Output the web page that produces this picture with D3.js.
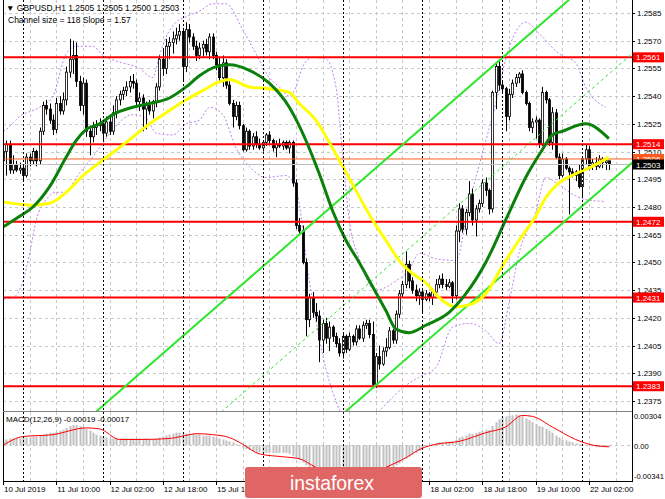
<!DOCTYPE html>
<html><head><meta charset="utf-8">
<script src="https://cdnjs.cloudflare.com/ajax/libs/d3/7.8.5/d3.min.js"></script>
<style>body{margin:0;background:#fff}svg{display:block}text{font-family:"Liberation Sans",Arial,sans-serif}</style>
</head><body><svg id="c" width="665" height="499"></svg>
<script>
// ---------- DATA ----------
const opens=[1.2505,1.2510,1.2514,1.2500,1.2503,1.2500,1.2501,1.2497,1.2507,1.2505,
1.2510,1.2505,1.2521,1.2535,1.2533,1.2527,1.2522,1.2536,1.2532,1.2538,
1.2553,1.2560,1.2562,1.2548,1.2535,1.2547,1.2521,1.2518,1.2523,1.2524,
1.2525,1.2520,1.2526,1.2521,1.2531,1.2538,1.2541,1.2543,1.2545,1.2548,
1.2547,1.2537,1.2539,1.2533,1.2535,1.2532,1.2537,1.2545,1.2560,1.2555,
1.2567,1.2569,1.2571,1.2573,1.2575,1.2556,1.2576,1.2572,1.2567,1.2562,
1.2566,1.2568,1.2564,1.2572,1.2562,1.2557,1.2550,1.2558,1.2546,1.2536,
1.2529,1.2535,1.2524,1.2511,1.2521,1.2513,1.2518,1.2514,1.2512,1.2515,
1.2519,1.2516,1.2512,1.2514,1.2513,1.2515,1.2512,1.2515,1.2493,1.2470,
1.2467,1.2450,1.2419,1.2431,1.2423,1.2421,1.2408,1.2417,1.2409,1.2415,
1.2410,1.2406,1.2401,1.2410,1.2403,1.2410,1.2407,1.2414,1.2409,1.2416,
1.2417,1.2411,1.2384,1.2399,1.2395,1.2402,1.2404,1.2413,1.2408,1.2422,
1.2433,1.2438,1.2449,1.2440,1.2435,1.2432,1.2434,1.2430,1.2433,1.2431,
1.2434,1.2438,1.2441,1.2438,1.2437,1.2439,1.2432,1.2467,1.2479,1.2468,
1.2477,1.2487,1.2473,1.2479,1.2482,1.2493,1.2489,1.2479,1.2542,1.2556,
1.2546,1.2544,1.2529,1.2541,1.2547,1.2550,1.2552,1.2542,1.2536,1.2523,
1.2526,1.2527,1.2514,1.2542,1.2538,1.2515,1.2531,1.2507,1.2497,1.2506,
1.2501,1.2499,1.2497,1.2499,1.2491,1.2506,1.2511,1.2502,1.2504,1.2502,
1.2506,1.2504,1.2505];
const highs=[1.2513,1.2516,1.2516,1.2508,1.2505,1.2504,1.2503,1.2509,1.2509,1.2512,
1.2511,1.2523,1.2537,1.2538,1.2536,1.2530,1.2539,1.2540,1.2542,1.2556,
1.2571,1.2570,1.2569,1.2551,1.2550,1.2549,1.2524,1.2526,1.2527,1.2528,
1.2527,1.2529,1.2530,1.2535,1.2540,1.2543,1.2545,1.2548,1.2551,1.2552,
1.2549,1.2542,1.2541,1.2537,1.2538,1.2538,1.2547,1.2562,1.2566,1.2571,
1.2572,1.2575,1.2577,1.2579,1.2577,1.2580,1.2579,1.2574,1.2570,1.2569,
1.2570,1.2571,1.2574,1.2574,1.2564,1.2561,1.2562,1.2560,1.2548,1.2538,
1.2537,1.2537,1.2525,1.2523,1.2522,1.2520,1.2521,1.2517,1.2516,1.2520,
1.2521,1.2517,1.2516,1.2517,1.2516,1.2516,1.2516,1.2516,1.2495,1.2474,
1.2470,1.2452,1.2433,1.2434,1.2428,1.2424,1.2419,1.2420,1.2418,1.2416,
1.2412,1.2409,1.2412,1.2411,1.2412,1.2411,1.2416,1.2416,1.2418,1.2419,
1.2419,1.2418,1.2401,1.2405,1.2404,1.2409,1.2415,1.2414,1.2424,1.2435,
1.2440,1.2456,1.2451,1.2442,1.2438,1.2436,1.2436,1.2435,1.2434,1.2436,
1.2441,1.2443,1.2444,1.2441,1.2441,1.2440,1.2470,1.2482,1.2481,1.2479,
1.2494,1.2490,1.2481,1.2484,1.2495,1.2496,1.2490,1.2543,1.2558,1.2559,
1.2548,1.2545,1.2544,1.2549,1.2552,1.2553,1.2554,1.2543,1.2537,1.2528,
1.2529,1.2528,1.2545,1.2543,1.2539,1.2534,1.2533,1.2509,1.2509,1.2507,
1.2502,1.2501,1.2500,1.2503,1.2507,1.2514,1.2513,1.2506,1.2507,1.2508,
1.2507,1.2507,1.2505];
const lows=[1.2490,1.2497,1.2498,1.2498,1.2499,1.2498,1.2494,1.2496,1.2502,1.2503,
1.2502,1.2503,1.2519,1.2530,1.2525,1.2519,1.2520,1.2530,1.2530,1.2535,
1.2550,1.2552,1.2545,1.2532,1.2530,1.2518,1.2508,1.2515,1.2519,1.2521,
1.2516,1.2518,1.2519,1.2519,1.2528,1.2535,1.2538,1.2540,1.2542,1.2544,
1.2535,1.2532,1.2521,1.2522,1.2530,1.2528,1.2534,1.2543,1.2551,1.2552,
1.2560,1.2563,1.2568,1.2570,1.2548,1.2553,1.2569,1.2565,1.2559,1.2560,
1.2561,1.2562,1.2560,1.2560,1.2554,1.2548,1.2545,1.2544,1.2535,1.2523,
1.2527,1.2522,1.2510,1.2510,1.2511,1.2511,1.2512,1.2511,1.2510,1.2513,
1.2514,1.2510,1.2507,1.2512,1.2511,1.2511,1.2509,1.2491,1.2468,1.2465,
1.2449,1.2410,1.2415,1.2420,1.2418,1.2396,1.2401,1.2406,1.2402,1.2407,
1.2404,1.2399,1.2398,1.2401,1.2402,1.2405,1.2405,1.2408,1.2407,1.2414,
1.2409,1.2382,1.2382,1.2392,1.2394,1.2399,1.2403,1.2406,1.2406,1.2420,
1.2431,1.2436,1.2436,1.2433,1.2429,1.2427,1.2423,1.2429,1.2429,1.2427,
1.2432,1.2436,1.2436,1.2435,1.2436,1.2428,1.2430,1.2461,1.2466,1.2465,
1.2475,1.2470,1.2464,1.2477,1.2480,1.2486,1.2476,1.2477,1.2533,1.2543,
1.2542,1.2521,1.2527,1.2539,1.2545,1.2547,1.2541,1.2535,1.2521,1.2520,
1.2517,1.2512,1.2513,1.2536,1.2513,1.2511,1.2506,1.2495,1.2496,1.2500,
1.2476,1.2496,1.2494,1.2490,1.2485,1.2503,1.2500,1.2500,1.2500,1.2501,
1.2501,1.2500,1.2500];
const closes=[1.2510,1.2514,1.2500,1.2503,1.2500,1.2501,1.2497,1.2507,1.2505,1.2510,
1.2505,1.2521,1.2535,1.2533,1.2527,1.2522,1.2536,1.2532,1.2538,1.2553,
1.2560,1.2562,1.2548,1.2535,1.2547,1.2521,1.2518,1.2523,1.2524,1.2525,
1.2520,1.2526,1.2521,1.2531,1.2538,1.2541,1.2543,1.2545,1.2548,1.2547,
1.2537,1.2539,1.2533,1.2535,1.2532,1.2537,1.2545,1.2560,1.2555,1.2567,
1.2569,1.2571,1.2573,1.2575,1.2556,1.2576,1.2572,1.2567,1.2562,1.2566,
1.2568,1.2564,1.2572,1.2562,1.2557,1.2550,1.2558,1.2546,1.2536,1.2529,
1.2535,1.2524,1.2511,1.2521,1.2513,1.2518,1.2514,1.2512,1.2515,1.2519,
1.2516,1.2512,1.2514,1.2513,1.2515,1.2512,1.2515,1.2493,1.2470,1.2467,
1.2450,1.2419,1.2431,1.2423,1.2421,1.2408,1.2417,1.2409,1.2415,1.2410,
1.2406,1.2401,1.2410,1.2403,1.2410,1.2407,1.2414,1.2409,1.2416,1.2417,
1.2411,1.2384,1.2399,1.2395,1.2402,1.2404,1.2413,1.2408,1.2422,1.2433,
1.2438,1.2449,1.2440,1.2435,1.2432,1.2434,1.2430,1.2433,1.2431,1.2434,
1.2438,1.2441,1.2438,1.2437,1.2439,1.2432,1.2467,1.2479,1.2468,1.2477,
1.2487,1.2473,1.2479,1.2482,1.2493,1.2489,1.2479,1.2542,1.2556,1.2546,
1.2544,1.2529,1.2541,1.2547,1.2550,1.2552,1.2542,1.2536,1.2523,1.2526,
1.2527,1.2514,1.2542,1.2538,1.2515,1.2531,1.2507,1.2497,1.2506,1.2501,
1.2499,1.2497,1.2499,1.2491,1.2506,1.2511,1.2502,1.2504,1.2502,1.2506,
1.2504,1.2505,1.2503];

// moving averages: [bar, price]
const greenMA=[[-1,1.2468],[5,1.2475],[9,1.2480],[14,1.2491],[19,1.2507],[22,1.2516],[25,1.2522],[29,1.2525],[33,1.2530],[39,1.2534],[44,1.2536],[50,1.2539],[55,1.2545],[59,1.2551],[64,1.2556],[68,1.2557],[74,1.2554],[80,1.2547],[86,1.2534],[91,1.2516],[95,1.2498],[99,1.2478],[103,1.2462],[107,1.2450],[111,1.2437],[115,1.2424],[118,1.2414],[122,1.2412],[127,1.2416],[134,1.2423],[139,1.2433],[145,1.2450],[151,1.2473],[157,1.2496],[162,1.2511],[165,1.2519],[168,1.2521],[175,1.2525],[182,1.2517]];
const yellowMA=[[-1,1.2483],[9,1.2481],[14,1.2482],[19,1.2488],[24,1.2497],[29,1.2504],[37,1.2515],[44,1.2525],[49,1.2531],[55,1.2538],[61,1.2544],[64,1.2547],[68,1.2549],[74,1.2545],[80,1.2544],[86,1.2542],[89,1.2536],[94,1.2527],[98,1.2515],[102,1.2502],[106,1.2489],[111,1.2473],[115,1.2462],[119,1.2451],[123,1.2444],[127,1.2439],[131,1.2431],[136,1.2426],[140,1.2427],[145,1.2433],[150,1.2448],[155,1.2462],[160,1.2475],[163,1.2485],[167,1.2493],[172,1.2498],[177,1.2502],[182,1.2507]];
const bandUpper=[[-1,1.2520],[1,1.2522],[5,1.2529],[11,1.2534],[15,1.2540],[19,1.2563],[22,1.2567],[27,1.2567],[30,1.2562],[34,1.2559],[41,1.2555],[45,1.2550],[47,1.2562],[49,1.2572],[52,1.2580],[55,1.2583],[59,1.2586],[63,1.2590],[67,1.2590],[72,1.2576],[76,1.2563],[80,1.2550],[83,1.2545],[86,1.2540],[88,1.2545],[90,1.2556],[93,1.2561],[97,1.2560],[100,1.2545],[102,1.2509],[104,1.2473],[107,1.2452],[112,1.2435],[118,1.2440],[122,1.2446],[125,1.2455],[130,1.2452],[136,1.2451],[140,1.2482],[144,1.2509],[148,1.2536],[151,1.2560],[157,1.2580],[161,1.2574],[167,1.2563],[172,1.2558],[175,1.2545],[181,1.2534]];
const bandLower=[[-1,1.2430],[3,1.2431],[6,1.2440],[8,1.2455],[10,1.2473],[13,1.2484],[16,1.2488],[19,1.2488],[22,1.2496],[26,1.2505],[29,1.2512],[33,1.2522],[39,1.2530],[43,1.2528],[46,1.2520],[51,1.2519],[55,1.2525],[59,1.2527],[62,1.2534],[66,1.2530],[70,1.2512],[74,1.2502],[79,1.2496],[85,1.2497],[88,1.2490],[92,1.2440],[96,1.2400],[100,1.2375],[104,1.2362],[110,1.2365],[116,1.2375],[120,1.2382],[125,1.2388],[130,1.2393],[135,1.2415],[140,1.2417],[145,1.2413],[149,1.2406],[152,1.2428],[155,1.2455],[160,1.2477],[163,1.2496],[167,1.2492],[172,1.2486],[175,1.2484],[181,1.2483]];

// equidistant channel anchors [bar, price]
const channelUpper=[[31,1.2374],[168,1.2589]];
const channelMiddle=[[70,1.2376],[189,1.2563]];
const channelLower=[[104,1.2371],[189,1.2504]];

const levels=[1.2561,1.2514,1.2472,1.2431,1.2383];
const bidLevel=1.2503, askLevel=1.2506;
const priceTicks=[1.2585,1.2570,1.2555,1.2540,1.2525,1.2510,1.2495,1.2480,1.2465,1.2450,1.2435,1.2420,1.2405,1.2390,1.2375];
const timeLabels=[[0,"10 Jul 2019"],[16,"11 Jul 10:00"],[32,"12 Jul 02:00"],[48,"12 Jul 18:00"],[64,"15 Jul 10:00"],[128,"18 Jul 02:00"],[144,"18 Jul 18:00"],[160,"19 Jul 10:00"],[176,"22 Jul 02:00"]];
const tickBars=[0,16,32,48,64,80,96,112,128,144,160,176];
const daySeparators=[6,30,54,78,102,126,150,174];

const macdHist=[.0006,.0006,.0007,.0007,.0007,.0007,.0008,.0008,.0008,.0009,
.0009,.0010,.0011,.0012,.0013,.0013,.0014,.0015,.0016,.0018,
.0020,.0021,.0021,.0020,.0019,.0017,.0015,.0013,.0011,.0010,
.0009,.0008,.0007,.0007,.0007,.0007,.0007,.0007,.0007,.0007,
.0007,.0007,.0007,.0007,.0006,.0006,.0007,.0008,.0009,.0010,
.0011,.0012,.0013,.0013,.0013,.0012,.0012,.0012,.0011,.0011,
.0010,.0010,.0010,.0009,.0008,.0007,.0006,.0005,.0004,.0003,
.0001,-.0001,-.0003,-.0004,-.0005,-.0006,-.0007,-.0007,-.0008,-.0008,
-.0008,-.0008,-.0008,-.0008,-.0008,-.0008,-.0009,-.0011,-.0013,-.0015,
-.0018,-.0021,-.0024,-.0026,-.0028,-.0030,-.0031,-.0032,-.0033,-.0033,
-.0033,-.0033,-.0032,-.0032,-.0031,-.0031,-.0030,-.0030,-.0029,-.0029,
-.0029,-.0030,-.0030,-.0029,-.0028,-.0027,-.0025,-.0023,-.0021,-.0019,
-.0016,-.0014,-.0012,-.0010,-.0008,-.0006,-.0004,-.0002,.0000,.0001,
.0002,.0003,.0003,.0004,.0004,.0004,.0006,.0008,.0009,.0010,
.0012,.0012,.0013,.0014,.0015,.0016,.0016,.0020,.0024,.0027,
.0029,.0030,.0031,.0031,.0032,.0031,.0030,.0028,.0026,.0024,
.0022,.0020,.0019,.0017,.0015,.0013,.0010,.0008,.0006,.0005,
.0004,.0003,.0002,.0001,.0001,.0000,-.0001,-.0001,-.0002,-.0002,
-.0002,-.0002,-.00019];
const macdSignal=[[0,0.0000],[6,0.0009],[15,0.0011],[25,0.0018],[29,0.0017],[35,0.0006],[42,0.0006],[50,0.0007],[56,0.0011],[58,0.0012],[63,0.0011],[68,0.0008],[72,0.0001],[77,-0.0009],[84,-0.0012],[89,-0.0014],[94,-0.0023],[98,-0.0028],[103,-0.0033],[110,-0.0032],[115,-0.0023],[120,-0.0015],[126,-0.0003],[130,0.0001],[137,0.0004],[145,0.0013],[151,0.0019],[156,0.0031],[159,0.0030],[165,0.0019],[172,0.0006],[176,0.0001],[182,-0.00017]];
const macdTicks=[0.00304,0.00,-0.00341];

// ---------- DRAW ----------
const svg=d3.select("#c");
const L=3,R=632,T=0,MB=411,MT=412,BB=481;
const x=d3.scaleLinear().domain([0,182]).range([3,608.9]);
const y=d3.scaleLinear().domain([1.2375,1.2585]).range([401,13]);
const ym=d3.scaleLinear().domain([-0.00341,0.00304]).range([478,416]);

const defs=svg.append("defs");
defs.append("clipPath").attr("id","cm").append("rect").attr("x",L).attr("y",T).attr("width",R-L).attr("height",MB-T);
defs.append("clipPath").attr("id","cd").append("rect").attr("x",L).attr("y",MT).attr("width",R-L).attr("height",BB-MT);

const gm=svg.append("g").attr("clip-path","url(#cm)");
const gd=svg.append("g").attr("clip-path","url(#cd)");

// grid
const vb=d3.range(0,190,8);
[gm,gd].forEach((g,k)=>{
  g.selectAll(null).data(vb).join("line").attr("x1",d=>Math.round(x(d))+0.5).attr("x2",d=>Math.round(x(d))+0.5)
   .attr("y1",k?MT:T).attr("y2",k?BB:MB).attr("stroke","#c8c8c8").attr("stroke-dasharray","3,3");
});
gm.selectAll(null).data(priceTicks).join("line").attr("x1",L).attr("x2",R)
  .attr("y1",d=>Math.round(y(d))+0.5).attr("y2",d=>Math.round(y(d))+0.5).attr("stroke","#c8c8c8").attr("stroke-dasharray","3,3");
gd.append("line").attr("x1",L).attr("x2",R).attr("y1",Math.round(ym(0))+0.5).attr("y2",Math.round(ym(0))+0.5).attr("stroke","#c8c8c8").attr("stroke-dasharray","3,3");
// day separators
svg.selectAll(null).data(daySeparators).join("line").attr("x1",d=>Math.round(x(d))+0.5).attr("x2",d=>Math.round(x(d))+0.5)
  .attr("y1",T).attr("y2",BB).attr("stroke","#000").attr("stroke-dasharray","2,2");

// bands
const lineP=d3.line().x(d=>x(d[0])).y(d=>y(d[1])).curve(d3.curveMonotoneX);
[bandUpper,bandLower].forEach(b=>gm.append("path").attr("d",lineP(b)).attr("fill","none")
  .attr("stroke","#bf7fec").attr("stroke-width",1).attr("stroke-dasharray","2,2"));

// candles
const idx=d3.range(closes.length);
gm.selectAll(null).data(idx).join("line").attr("x1",i=>Math.round(x(i))+0.5).attr("x2",i=>Math.round(x(i))+0.5)
  .attr("y1",i=>y(highs[i])).attr("y2",i=>y(lows[i])).attr("stroke","#000");
gm.selectAll(null).data(idx).join("rect")
  .attr("x",i=>Math.round(x(i))-0.5).attr("width",2)
  .attr("y",i=>y(Math.max(opens[i],closes[i])))
  .attr("height",i=>Math.max(1,Math.abs(y(opens[i])-y(closes[i]))))
  .attr("fill",i=>closes[i]>=opens[i]?"#fff":"#000").attr("stroke","#000").attr("stroke-width",0.8);

// bid/ask lines
gm.append("line").attr("x1",L).attr("x2",R).attr("y1",y(bidLevel)).attr("y2",y(bidLevel)).attr("stroke","#c0c0c0");
gm.append("line").attr("x1",L).attr("x2",R).attr("y1",y(askLevel)).attr("y2",y(askLevel)).attr("stroke","#ff5a1e");
// levels
gm.selectAll(null).data(levels).join("line").attr("x1",L).attr("x2",R).attr("y1",d=>y(d)).attr("y2",d=>y(d))
  .attr("stroke","#ff0000").attr("stroke-width",2);

// channel
const ext=(a)=>{const s=(a[1][1]-a[0][1])/(a[1][0]-a[0][0]);return [[-20,a[0][1]+s*(-20-a[0][0])],[200,a[0][1]+s*(200-a[0][0])]];};
const lineL=d3.line().x(d=>x(d[0])).y(d=>y(d[1]));
gm.append("path").attr("d",lineL(ext(channelUpper))).attr("stroke","#2ee62e").attr("stroke-width",2).attr("fill","none");
gm.append("path").attr("d",lineL(ext(channelLower))).attr("stroke","#2ee62e").attr("stroke-width",2).attr("fill","none");
gm.append("path").attr("d",lineL(ext(channelMiddle))).attr("stroke","#2ee62e").attr("stroke-width",1).attr("stroke-dasharray","3,3").attr("fill","none");

// MAs
const lineM=d3.line().x(d=>x(d[0])).y(d=>y(d[1])).curve(d3.curveMonotoneX);
gm.append("path").attr("d",lineM(yellowMA)).attr("fill","none").attr("stroke","#ffff00").attr("stroke-width",3);
gm.append("path").attr("d",lineM(greenMA)).attr("fill","none").attr("stroke","#0b800b").attr("stroke-width",3);

// MACD
gd.selectAll(null).data(idx).join("line").attr("x1",i=>Math.round(x(i))+0.5).attr("x2",i=>Math.round(x(i))+0.5)
  .attr("y1",ym(0)).attr("y2",i=>ym(macdHist[i])).attr("stroke","#c0c0c0").attr("stroke-width",2);
gd.append("path").attr("d",d3.line().x(d=>x(d[0])).y(d=>ym(d[1])).curve(d3.curveMonotoneX)(macdSignal))
  .attr("fill","none").attr("stroke","#ff0000").attr("stroke-width",1);

// frame
svg.append("line").attr("x1",L+0.5).attr("x2",L+0.5).attr("y1",T).attr("y2",BB).attr("stroke","#000");
svg.append("line").attr("x1",R+0.5).attr("x2",R+0.5).attr("y1",T).attr("y2",BB+1).attr("stroke","#000");
svg.append("line").attr("x1",L).attr("x2",R).attr("y1",MB+0.5).attr("y2",MB+0.5).attr("stroke","#808080");
svg.append("line").attr("x1",L).attr("x2",R).attr("y1",BB+0.5).attr("y2",BB+0.5).attr("stroke","#000");

// right axis labels
svg.selectAll(null).data(priceTicks).join("line").attr("x1",R).attr("x2",R+3).attr("y1",d=>Math.round(y(d))+0.5).attr("y2",d=>Math.round(y(d))+0.5).attr("stroke","#000");
svg.selectAll(null).data(priceTicks).join("text").attr("x",637).attr("y",d=>y(d)+3).attr("font-size",8).attr("fill","#000").text(d=>d.toFixed(4));
svg.selectAll(null).data(macdTicks).join("text").attr("x",634).attr("y",(d,i)=>[419,449,479][i]).attr("font-size",7.6).attr("fill","#000")
  .text(d=>d===0?"0.00":d.toFixed(5));
// level tags
const tag=(p,fill,txt)=>{svg.append("rect").attr("x",633).attr("y",y(p)-5).attr("width",31).attr("height",10).attr("fill",fill);
  svg.append("text").attr("x",636).attr("y",y(p)+3).attr("font-size",8).attr("fill","#fff").text(txt);};
levels.forEach(l=>tag(l,"#ff0000",l.toFixed(4)));
tag(askLevel,"#ff5a1e",askLevel.toFixed(4));
tag(bidLevel,"#000",bidLevel.toFixed(4));

// time axis
svg.selectAll(null).data(tickBars).join("line").attr("x1",d=>Math.round(x(d))+0.5).attr("x2",d=>Math.round(x(d))+0.5).attr("y1",BB).attr("y2",BB+4).attr("stroke","#000");
svg.selectAll(null).data(timeLabels).join("text").attr("x",d=>x(d[0])+1).attr("y",492).attr("font-size",8).attr("fill","#000").text(d=>d[1]);

// titles
svg.append("text").attr("x",6).attr("y",11).attr("font-size",8.5).attr("fill","#000").text("▼ GBPUSD,H1  1.2505 1.2505 1.2500 1.2503");
svg.append("text").attr("x",8).attr("y",23).attr("font-size",8.5).attr("fill","#000").text("Channel size = 118 Slope = 1.57");
svg.append("text").attr("x",6).attr("y",422).attr("font-size",8).attr("fill","#000").text("MACD(12,26,9) -0.00019 -0.00017");

// watermark
const wm=svg.append("g");
wm.append("rect").attr("x",245).attr("y",467).attr("width",177).attr("height",31).attr("rx",3).attr("fill","#e06666");
wm.append("text").attr("x",290).attr("y",490).attr("font-size",21).attr("font-family","Open Sans").attr("font-weight",300)
  .attr("textLength",84).attr("lengthAdjust","spacingAndGlyphs").attr("fill","#fff").text("instaforex");
</script></body></html>
